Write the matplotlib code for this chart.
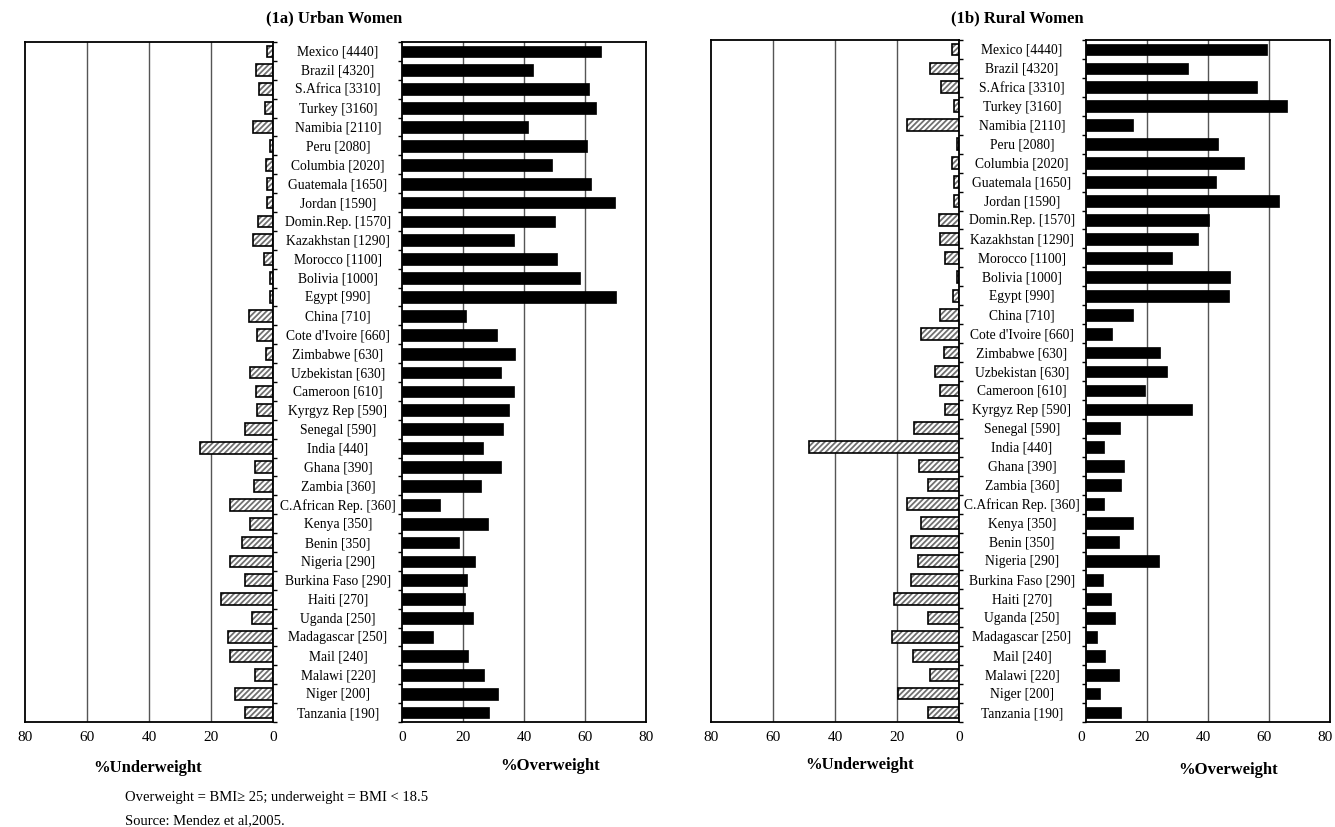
import matplotlib
matplotlib.use("Agg")
import matplotlib.pyplot as plt
import matplotlib.transforms as mtransforms
import numpy as np

plt.rcParams['font.family'] = ['Liberation Serif', 'DejaVu Serif']
plt.rcParams['hatch.linewidth'] = 1.3

countries = ["Mexico [4440]", "Brazil [4320]", "S.Africa [3310]", "Turkey [3160]",
             "Namibia [2110]", "Peru [2080]", "Columbia [2020]", "Guatemala [1650]",
             "Jordan [1590]", "Domin.Rep. [1570]", "Kazakhstan [1290]", "Morocco [1100]",
             "Bolivia [1000]", "Egypt [990]", "China [710]", "Cote d'Ivoire [660]",
             "Zimbabwe [630]", "Uzbekistan [630]", "Cameroon [610]", "Kyrgyz Rep [590]",
             "Senegal [590]", "India [440]", "Ghana [390]", "Zambia [360]",
             "C.African Rep. [360]", "Kenya [350]", "Benin [350]", "Nigeria [290]",
             "Burkina Faso [290]", "Haiti [270]", "Uganda [250]", "Madagascar [250]",
             "Mail [240]", "Malawi [220]", "Niger [200]", "Tanzania [190]"]

urban_under = [1.8, 5.5, 4.4, 2.5, 6.6, 0.9, 2.2, 1.8, 1.8, 4.9, 6.6, 2.9,
               0.9, 0.9, 7.8, 5.2, 2.2, 7.4, 5.4, 5.0, 8.9, 23.7, 5.7, 6.1,
               13.8, 7.3, 9.9, 13.8, 8.9, 16.8, 6.9, 14.5, 13.8, 5.7, 12.2, 8.9]
urban_over = [65.4, 43.1, 61.4, 63.5, 41.2, 60.6, 49.1, 62.0, 69.7, 50.3, 36.8, 50.7,
              58.2, 70.0, 20.9, 31.0, 37.1, 32.4, 36.8, 35.0, 33.0, 26.6, 32.3, 25.9,
              12.3, 28.2, 18.7, 23.9, 21.3, 20.7, 23.3, 10.3, 21.6, 27.0, 31.4, 28.5]
rural_under = [2.3, 9.5, 5.8, 1.5, 16.8, 0.8, 2.3, 1.5, 1.7, 6.5, 6.0, 4.5,
               0.8, 1.8, 6.0, 12.2, 4.9, 7.7, 6.1, 4.5, 14.4, 48.5, 12.9, 9.9,
               16.8, 12.2, 15.6, 13.3, 15.6, 20.9, 9.9, 21.6, 14.8, 9.2, 19.8, 9.9]
rural_over = [59.2, 33.3, 56.1, 65.9, 15.4, 43.4, 51.9, 42.7, 63.3, 40.4, 36.7, 28.3,
              47.3, 46.9, 15.4, 8.5, 24.1, 26.4, 19.5, 34.8, 11.1, 5.9, 12.3, 11.5,
              5.9, 15.4, 10.8, 23.8, 5.7, 8.2, 9.6, 3.7, 6.3, 10.8, 4.7, 11.5]

xticks = [0, 20, 40, 60, 80]

W, H = 1335, 828
fig = plt.figure(figsize=(W / 100, H / 100), dpi=100)


def fax(x0, x1, y0, y1):
    return fig.add_axes([x0 / W, 1 - y1 / H, (x1 - x0) / W, (y1 - y0) / H])


n = len(countries)
ypos = np.arange(n)
bh = 0.62
grid_col = '#555555'


def style_common(ax):
    ax.set_xlim(0, 80)
    ax.set_ylim(n - 0.5, -0.5)
    ax.set_xticks(xticks)
    ax.set_xticklabels([str(t) for t in xticks], fontsize=11)
    ax.tick_params(axis='x', length=0, pad=6)
    ax.set_yticks(np.arange(n + 1) - 0.5)
    ax.set_yticklabels([])
    for t in [20, 40, 60]:
        ax.axvline(t, color=grid_col, lw=1.0, zorder=0)
    for s in ax.spines.values():
        s.set_linewidth(1.3)


def under_axes(ax, vals):
    style_common(ax)
    ax.invert_xaxis()
    ax.barh(ypos, vals, height=bh, color='white', edgecolor='#707070',
            hatch='//////', lw=0, zorder=2)
    ax.barh(ypos, vals, height=bh, fill=False, edgecolor='black', lw=1.2, zorder=3)
    ax.yaxis.tick_right()
    ax.tick_params(axis='y', direction='out', length=3, width=1, right=True, left=False)


def over_axes(ax, vals):
    style_common(ax)
    ax.barh(ypos, vals, height=bh, color='black', edgecolor='black', lw=0.5, zorder=2)
    ax.tick_params(axis='y', direction='out', length=3, width=1, left=True, right=False)


# Panel (1a)
ax1u = fax(25, 273, 43, 723)
ax1o = fax(402, 646, 43, 723)
under_axes(ax1u, urban_under)
over_axes(ax1o, urban_over)

# Panel (1b)
ax2u = fax(711, 959, 41, 723)
ax2o = fax(1086, 1330, 41, 723)
under_axes(ax2u, rural_under)
over_axes(ax2o, rural_over)

# shift right-most tick labels slightly left so "80" stays inside the image
shift = mtransforms.ScaledTranslation(-5 / 100, 0, fig.dpi_scale_trans)
for lab in ax2o.get_xticklabels():
    lab.set_transform(lab.get_transform() + shift)

# Category labels between the paired axes
for ax, xc in [(ax1o, 338 / W), (ax2o, 1022 / W)]:
    tr = mtransforms.blended_transform_factory(fig.transFigure, ax.transData)
    for i, c in enumerate(countries):
        ax.text(xc, i, c, transform=tr, ha='center', va='center', fontsize=9.8,
                clip_on=False)

# Titles
fig.text(334 / W, 1 - 18 / H, "(1a) Urban Women", ha='center', va='center',
         fontsize=12, fontweight='bold')
fig.text(1017 / W, 1 - 18 / H, "(1b) Rural Women", ha='center', va='center',
         fontsize=12, fontweight='bold')

# Axis labels
fig.text(148 / W, 1 - 768 / H, "%Underweight", ha='center', va='center',
         fontsize=12, fontweight='bold')
fig.text(550 / W, 1 - 766 / H, "%Overweight", ha='center', va='center',
         fontsize=12, fontweight='bold')
fig.text(860 / W, 1 - 765 / H, "%Underweight", ha='center', va='center',
         fontsize=12, fontweight='bold')
fig.text(1228 / W, 1 - 770 / H, "%Overweight", ha='center', va='center',
         fontsize=12, fontweight='bold')

# Footnotes
fig.text(125 / W, 1 - 798 / H, "Overweight = BMI\u2265 25; underweight = BMI < 18.5",
         ha='left', va='center', fontsize=10.5)
fig.text(125 / W, 1 - 821 / H, "Source: Mendez et al,2005.",
         ha='left', va='center', fontsize=10.5)

fig.savefig("out.png", dpi=100)
